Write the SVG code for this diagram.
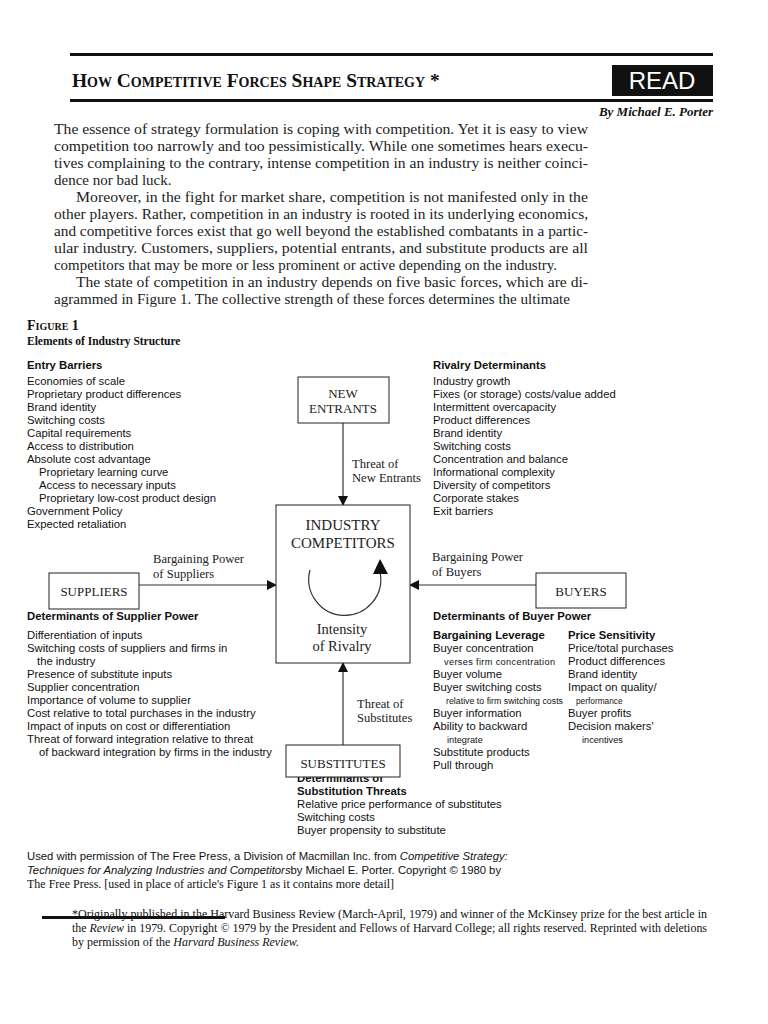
<svg xmlns="http://www.w3.org/2000/svg" width="768" height="1024" viewBox="0 0 768 1024">
<style>
.body{font-family:"Liberation Serif",serif;font-size:15px;fill:#222}
.fig{font-family:"Liberation Sans",Arial,sans-serif;font-size:11.3px;fill:#111}
.figb{font-family:"Liberation Sans",Arial,sans-serif;font-size:11.3px;font-weight:bold;fill:#111}
.small{font-family:"Liberation Sans",Arial,sans-serif;font-size:9.2px;fill:#111}
.tiny{font-family:"Liberation Sans",Arial,sans-serif;font-size:8.3px;fill:#111}
.node{font-family:"Liberation Serif",serif;font-size:13px;fill:#222}
.lbl{font-family:"Liberation Serif",serif;font-size:12.6px;fill:#222}
.box{fill:#fff;stroke:#222;stroke-width:1}
.conn{stroke:#333;stroke-width:1.2;fill:none}
.foot{font-family:"Liberation Sans",Arial,sans-serif;font-size:11.3px;fill:#111}
.footserif{font-family:"Liberation Serif",serif;font-size:12px;fill:#111}
</style>
<defs>
<marker id="ah" markerWidth="10" markerHeight="10" refX="9" refY="5" orient="auto" markerUnits="userSpaceOnUse">
<path d="M0,0 L10,5 L0,10 Z" fill="#111"/>
</marker>
</defs>
<rect width="768" height="1024" fill="#fff"/>

<!-- header -->
<g id="header">
<rect x="70" y="53" width="643" height="3" fill="#111"/>
<text x="72" y="87" style="font-family:'Liberation Serif',serif;font-weight:bold;font-size:19.4px;font-variant:small-caps;fill:#111">How Competitive Forces Shape Strategy *</text>
<rect x="612" y="65" width="101" height="31" fill="#111"/>
<text x="662" y="89" text-anchor="middle" style="font-family:'Liberation Sans',Arial,sans-serif;font-size:24px;fill:#fff">READ</text>
<rect x="70" y="99" width="643" height="3" fill="#111"/>
<text x="713" y="116" text-anchor="end" style="font-family:'Liberation Serif',serif;font-weight:bold;font-style:italic;font-size:13px;fill:#111">By Michael E. Porter</text>
</g>

<!-- body -->
<g id="body" class="body">
<text x="54" y="134" textLength="534" lengthAdjust="spacingAndGlyphs">The essence of strategy formulation is coping with competition. Yet it is easy to view</text>
<text x="54" y="151" textLength="534" lengthAdjust="spacingAndGlyphs">competition too narrowly and too pessimistically. While one sometimes hears execu-</text>
<text x="54" y="168" textLength="534" lengthAdjust="spacingAndGlyphs">tives complaining to the contrary, intense competition in an industry is neither coinci-</text>
<text x="54" y="185">dence nor bad luck.</text>
<text x="76" y="202" textLength="512" lengthAdjust="spacingAndGlyphs">Moreover, in the fight for market share, competition is not manifested only in the</text>
<text x="54" y="219" textLength="534" lengthAdjust="spacingAndGlyphs">other players. Rather, competition in an industry is rooted in its underlying economics,</text>
<text x="54" y="236" textLength="534" lengthAdjust="spacingAndGlyphs">and competitive forces exist that go well beyond the established combatants in a partic-</text>
<text x="54" y="253" textLength="534" lengthAdjust="spacingAndGlyphs">ular industry. Customers, suppliers, potential entrants, and substitute products are all</text>
<text x="54" y="270" textLength="503" lengthAdjust="spacingAndGlyphs">competitors that may be more or less prominent or active depending on the industry.</text>
<text x="76" y="287" textLength="512" lengthAdjust="spacingAndGlyphs">The state of competition in an industry depends on five basic forces, which are di-</text>
<text x="54" y="304" textLength="516" lengthAdjust="spacingAndGlyphs">agrammed in Figure 1. The collective strength of these forces determines the ultimate</text>
</g>

<!-- figure title -->
<g id="figtitle">
<text x="27" y="330" style="font-family:'Liberation Serif',serif;font-weight:bold;font-size:14px;font-variant:small-caps;fill:#111">Figure 1</text>
<text x="27" y="345" style="font-family:'Liberation Serif',serif;font-weight:bold;font-size:11.5px;fill:#111">Elements of Industry Structure</text>
</g>

<!-- entry barriers -->
<g id="entry-barriers" class="fig">
<text x="27" y="369" class="figb">Entry Barriers</text>
<text x="27" y="385">Economies of scale</text>
<text x="27" y="398">Proprietary product differences</text>
<text x="27" y="411">Brand identity</text>
<text x="27" y="424">Switching costs</text>
<text x="27" y="437">Capital requirements</text>
<text x="27" y="450">Access to distribution</text>
<text x="27" y="463">Absolute cost advantage</text>
<text x="39" y="476">Proprietary learning curve</text>
<text x="39" y="489">Access to necessary inputs</text>
<text x="39" y="502">Proprietary low-cost product design</text>
<text x="27" y="515">Government Policy</text>
<text x="27" y="528">Expected retaliation</text>
</g>

<!-- rivalry determinants -->
<g id="rivalry-determinants" class="fig">
<text x="433" y="369" class="figb">Rivalry Determinants</text>
<text x="433" y="385">Industry growth</text>
<text x="433" y="398">Fixes (or storage) costs/value added</text>
<text x="433" y="411">Intermittent overcapacity</text>
<text x="433" y="424">Product differences</text>
<text x="433" y="437">Brand identity</text>
<text x="433" y="450">Switching costs</text>
<text x="433" y="463">Concentration and balance</text>
<text x="433" y="476">Informational complexity</text>
<text x="433" y="489">Diversity of competitors</text>
<text x="433" y="502">Corporate stakes</text>
<text x="433" y="515">Exit barriers</text>
</g>

<!-- connectors -->
<g id="connectors" class="conn">
<line x1="343" y1="423" x2="343" y2="505" marker-end="url(#ah)"/>
<line x1="139" y1="585" x2="276" y2="585" marker-end="url(#ah)"/>
<line x1="536" y1="585" x2="410" y2="585" marker-end="url(#ah)"/>
<line x1="343" y1="745" x2="343" y2="663" marker-end="url(#ah)"/>
</g>
<g id="connector-labels" class="lbl">
<text x="352" y="468">Threat of</text>
<text x="352" y="482">New Entrants</text>
<text x="153" y="563">Bargaining Power</text>
<text x="153" y="578">of Suppliers</text>
<text x="432" y="561">Bargaining Power</text>
<text x="432" y="576">of Buyers</text>
<text x="357" y="708">Threat of</text>
<text x="357" y="722">Substitutes</text>
</g>

<!-- new entrants -->
<g id="new-entrants">
<rect class="box" x="298" y="377" width="91" height="46"/>
<text class="node" x="343" y="398" text-anchor="middle">NEW</text>
<text class="node" x="343" y="413" text-anchor="middle">ENTRANTS</text>
</g>

<!-- industry competitors -->
<g id="industry-competitors">
<rect class="box" x="276" y="505" width="134" height="158"/>
<text class="node" x="343" y="530" text-anchor="middle" style="font-size:15px">INDUSTRY</text>
<text class="node" x="343" y="548" text-anchor="middle" style="font-size:15px">COMPETITORS</text>
<path d="M310,570 A36,36 0 1 0 380,572" fill="none" stroke="#333" stroke-width="1.2"/>
<path d="M373,574 L380,559 L388,574 Z" fill="#111"/>
<text class="node" x="342" y="634" text-anchor="middle" style="font-size:14.5px">Intensity</text>
<text class="node" x="342" y="651" text-anchor="middle" style="font-size:14.5px">of Rivalry</text>
</g>

<!-- suppliers -->
<g id="suppliers">
<rect class="box" x="49" y="573" width="90" height="36"/>
<text class="node" x="94" y="596" text-anchor="middle">SUPPLIERS</text>
</g>

<!-- buyers -->
<g id="buyers">
<rect class="box" x="536" y="573" width="90" height="35"/>
<text class="node" x="581" y="596" text-anchor="middle">BUYERS</text>
</g>

<!-- supplier power -->
<g id="supplier-power" class="fig">
<text x="27" y="620" class="figb">Determinants of Supplier Power</text>
<text x="27" y="639">Differentiation of inputs</text>
<text x="27" y="652">Switching costs of suppliers and firms in</text>
<text x="37" y="665">the industry</text>
<text x="27" y="678">Presence of substitute inputs</text>
<text x="27" y="691">Supplier concentration</text>
<text x="27" y="704">Importance of volume to supplier</text>
<text x="27" y="717">Cost relative to total purchases in the industry</text>
<text x="27" y="730">Impact of inputs on cost or differentiation</text>
<text x="27" y="743">Threat of forward integration relative to threat</text>
<text x="39" y="756">of backward integration by firms in the industry</text>
</g>

<!-- buyer power -->
<g id="buyer-power" class="fig">
<text x="433" y="620" class="figb">Determinants of Buyer Power</text>
<text x="433" y="639" class="figb">Bargaining Leverage</text>
<text x="433" y="652">Buyer concentration</text>
<text x="444" y="665" class="small" textLength="111" lengthAdjust="spacing">verses firm concentration</text>
<text x="433" y="678">Buyer volume</text>
<text x="433" y="691">Buyer switching costs</text>
<text x="446" y="704" class="tiny" textLength="117" lengthAdjust="spacingAndGlyphs">relative to firm switching costs</text>
<text x="433" y="717">Buyer information</text>
<text x="433" y="730">Ability to backward</text>
<text x="447" y="743" class="small">integrate</text>
<text x="433" y="756">Substitute products</text>
<text x="433" y="769">Pull through</text>
<text x="568" y="639" class="figb">Price Sensitivity</text>
<text x="568" y="652">Price/total purchases</text>
<text x="568" y="665">Product differences</text>
<text x="568" y="678">Brand identity</text>
<text x="568" y="691">Impact on quality/</text>
<text x="576" y="704" class="tiny">performance</text>
<text x="568" y="717">Buyer profits</text>
<text x="568" y="730">Decision makers'</text>
<text x="582" y="743" class="small">incentives</text>
</g>

<!-- substitution threats -->
<g id="substitution-threats" class="fig">
<text x="297" y="782" class="figb">Determinants of</text>
<text x="297" y="795" class="figb">Substitution Threats</text>
<text x="297" y="808">Relative price performance of substitutes</text>
<text x="297" y="821">Switching costs</text>
<text x="297" y="834">Buyer propensity to substitute</text>
</g>

<!-- substitutes -->
<g id="substitutes">
<rect class="box" x="286" y="745" width="114" height="32"/>
<text class="node" x="343" y="768" text-anchor="middle">SUBSTITUTES</text>
</g>

<!-- footer -->
<g id="credits">
<text x="27" y="860" class="foot">Used with permission of The Free Press, a Division of Macmillan Inc. from  <tspan font-style="italic">Competitive Strategy:</tspan></text>
<text x="27" y="874" class="foot"><tspan font-style="italic">Techniques for Analyzing Industries and Competitors</tspan>by Michael E. Porter. Copyright  © 1980 by</text>
<text x="27" y="888" class="footserif">The Free Press. [used in place of article's Figure 1 as it contains more detail]</text>
</g>
<g id="footnote" class="footserif">
<rect x="42" y="916" width="183" height="3" fill="#111"/>
<text x="72" y="918" textLength="635" lengthAdjust="spacingAndGlyphs">*Originally published in the Harvard Business Review (March-April, 1979) and winner of the McKinsey prize for the best article in</text>
<text x="72" y="932" textLength="635" lengthAdjust="spacingAndGlyphs">the <tspan font-style="italic">Review</tspan> in 1979. Copyright © 1979 by the President and Fellows of Harvard College; all rights reserved. Reprinted with deletions</text>
<text x="72" y="946">by permission of the <tspan font-style="italic">Harvard Business Review.</tspan></text>
</g>
</svg>
